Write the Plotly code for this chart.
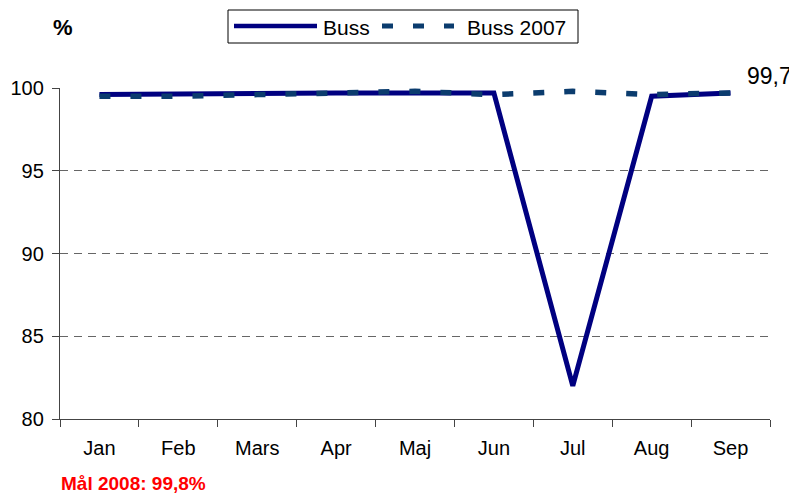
import plotly.graph_objects as go

months = ["Jan", "Feb", "Mars", "Apr", "Maj", "Jun", "Jul", "Aug", "Sep"]
buss = [99.6, 99.65, 99.7, 99.7, 99.7, 99.7, 82.0, 99.5, 99.7]
buss_2007 = [99.5, 99.5, 99.6, 99.7, 99.8, 99.6, 99.8, 99.6, 99.7]
y_ticks = [80, 85, 90, 95, 100]

SOLID = "#000080"
DASHC = "#0B3C6E"
DASH = "11px,20px"

# the page body adds an 8px offset; size/margins compensate for it
OFF = 8
W, H = 797 - OFF, 495 - OFF
L, R, T, B = 60 - OFF, 27, 88 - OFF, 76

fig = go.Figure()
fig.add_trace(go.Scatter(x=months, y=buss, name="Buss", mode="lines",
                         line=dict(color=SOLID, width=5), showlegend=False))
fig.add_trace(go.Scatter(x=months, y=buss_2007, name="Buss 2007", mode="lines",
                         line=dict(color=DASHC, width=5.5, dash=DASH), showlegend=False))

# value label at last point
fig.add_annotation(x=months[-1], y=buss[-1], text="99,7", showarrow=False,
                   xanchor="left", yanchor="middle", xshift=14, yshift=17,
                   font=dict(family="Arial", size=23, color="black"))

# axis unit and goal note
fig.add_annotation(x=0, y=1, xref="paper", yref="paper", text="<b>%</b>",
                   showarrow=False, xanchor="center", yanchor="middle",
                   xshift=3, yshift=61, font=dict(family="Arial", size=22, color="black"))
fig.add_annotation(x=0, y=0, xref="paper", yref="paper", text="<b>Mål 2008: 99,8%</b>",
                   showarrow=False, xanchor="left", yanchor="middle",
                   xshift=-1, yshift=-64, font=dict(family="Arial", size=19, color="#FF0000"))

# manual legend (box, samples, labels); coords given in page pixels
pw, ph = W - L - R, H - T - B
def px(x):
    return (x - OFF - L) / pw
def py(y):
    return (H - B - (y - OFF)) / ph

fig.add_shape(type="rect", xref="paper", yref="paper",
              x0=px(228), x1=px(578), y0=py(43), y1=py(10),
              line=dict(color="black", width=1), fillcolor="white", layer="above")
fig.add_shape(type="line", xref="paper", yref="paper",
              x0=px(234), x1=px(317), y0=py(26), y1=py(26),
              line=dict(color=SOLID, width=4.5), layer="above")
fig.add_shape(type="line", xref="paper", yref="paper",
              x0=px(382), x1=px(454), y0=py(26), y1=py(26),
              line=dict(color=DASHC, width=5, dash=DASH), layer="above")
fig.add_annotation(x=px(321), y=py(27), xref="paper", yref="paper", text="Buss",
                   showarrow=False, xanchor="left", yanchor="middle",
                   font=dict(family="Arial", size=21, color="black"))
fig.add_annotation(x=px(465), y=py(27), xref="paper", yref="paper", text="Buss 2007",
                   showarrow=False, xanchor="left", yanchor="middle",
                   font=dict(family="Arial", size=21, color="black"))

fig.update_layout(
    width=W, height=H,
    margin=dict(l=L, r=R, t=T, b=B, autoexpand=False),
    paper_bgcolor="white", plot_bgcolor="white",
    font=dict(family="Arial", size=20, color="black"),
    showlegend=False,
    xaxis=dict(type="category", range=[-0.5, 8.5], tickson="boundaries",
               ticks="outside", ticklen=7, tickcolor="#444", showgrid=False,
               showline=True, linecolor="#444", linewidth=1.3,
               ticklabelstandoff=11,
               tickfont=dict(family="Arial", size=20)),
    yaxis=dict(range=[80, 100], tickvals=y_ticks, ticks="outside", ticklen=7,
               tickcolor="#444", showline=True, linecolor="#444", linewidth=1.3,
               showgrid=True, gridcolor="#666", griddash="8px,6px", gridwidth=1,
               zeroline=False, ticklabelstandoff=4,
               tickfont=dict(family="Arial", size=20)),
)
fig.write_html("out.html")
